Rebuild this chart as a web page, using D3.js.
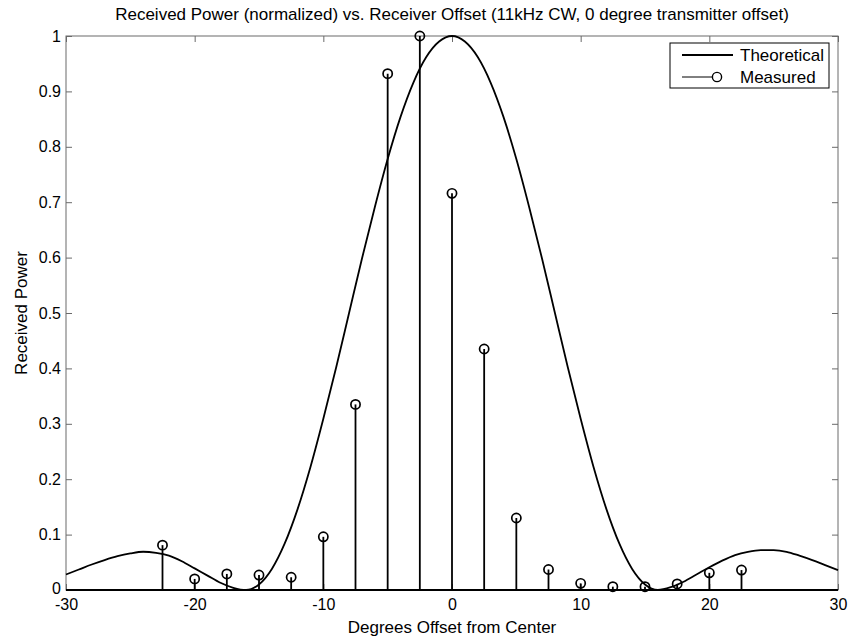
<!DOCTYPE html>
<html>
<head>
<meta charset="utf-8">
<script src="https://cdn.jsdelivr.net/npm/d3@7"></script>
<style>
  html, body { margin: 0; padding: 0; background: #fff; }
  svg { display: block; font-family: "Liberation Sans", Arial, Helvetica, sans-serif; }
</style>
</head>
<body>
<svg id="chart" width="851" height="637"></svg>
<script>
// ---- data ----
const titleText = "Received Power (normalized) vs. Receiver Offset (11kHz CW, 0 degree transmitter offset)";
const xLabelText = "Degrees Offset from Center";
const yLabelText = "Received Power";
const legendLabels = ["Theoretical", "Measured"];

const xTicks = [-30, -20, -10, 0, 10, 20, 30];
const xTickLabels = ["-30", "-20", "-10", "0", "10", "20", "30"];
const yTicks = [0, 0.1, 0.2, 0.3, 0.4, 0.5, 0.6, 0.7, 0.8, 0.9, 1];
const yTickLabels = ["0", "0.1", "0.2", "0.3", "0.4", "0.5", "0.6", "0.7", "0.8", "0.9", "1"];

// Theoretical curve, every degree
const theoryDeg = [-30,-29,-28,-27,-26,-25,-24,-23,-22,-21,-20,-19,-18,-17,-16,-15,-14,-13,-12,-11,-10,-9,-8,-7,-6,-5,-4,-3,-2,-1,
                   0,1,2,3,4,5,6,7,8,9,10,11,12,13,14,15,16,17,18,19,20,21,22,23,24,25,26,27,28,29,30];
const theoryPower = [0.028,0.037,0.046,0.054,0.061,0.066,0.069,0.067,0.062,0.052,0.039,0.026,0.013,0.004,0.000,0.010,0.038,0.084,0.146,0.222,0.309,0.402,0.500,0.598,0.691,0.778,0.854,0.916,0.962,0.990,
                     1.000,0.990,0.962,0.916,0.854,0.778,0.691,0.598,0.500,0.402,0.309,0.222,0.146,0.084,0.038,0.010,0.000,0.005,0.015,0.028,0.041,0.053,0.063,0.069,0.072,0.072,0.069,0.062,0.054,0.045,0.036];

// Measured stems
const measuredDeg = [-22.5,-20,-17.5,-15,-12.5,-10,-7.5,-5,-2.5,0,2.5,5,7.5,10,12.5,15,17.5,20,22.5];
const measuredPower = [0.081,0.020,0.029,0.027,0.023,0.096,0.335,0.932,1.000,0.716,0.435,0.130,0.037,0.012,0.006,0.006,0.011,0.031,0.036];

// ---- layout ----
const svg = d3.select("#chart");
const L = 66, R = 838, T = 36, B = 590;
const x = d3.scaleLinear().domain([-30, 30]).range([L, R]);
const y = d3.scaleLinear().domain([0, 1]).range([B, T]);
const ink = "#000";
const FONT = '"Liberation Sans", Arial, sans-serif';

// plot box
svg.append("rect").attr("x", L).attr("y", T).attr("width", R - L).attr("height", B - T)
  .attr("fill", "none").attr("stroke", "#6a6a6a").attr("stroke-width", 1);

// axes with inward ticks
const fmtX = d => xTickLabels[xTicks.indexOf(d)];
const fmtY = d => yTickLabels[yTicks.indexOf(d)];
const gx = svg.append("g").attr("transform", `translate(0,${B})`)
  .call(d3.axisBottom(x).tickValues(xTicks).tickSize(-6).tickPadding(9).tickFormat(fmtX));
const gxt = svg.append("g").attr("transform", `translate(0,${T})`)
  .call(d3.axisTop(x).tickValues(xTicks).tickSize(-6).tickFormat(""));
const gy = svg.append("g").attr("transform", `translate(${L},0)`)
  .call(d3.axisLeft(y).tickValues(yTicks).tickSize(-6).tickPadding(5).tickFormat(fmtY));
const gyr = svg.append("g").attr("transform", `translate(${R},0)`)
  .call(d3.axisRight(y).tickValues(yTicks).tickSize(-6).tickFormat(""));
[gx, gxt, gy, gyr].forEach(g => {
  g.select(".domain").remove();
  g.selectAll(".tick line").attr("stroke", "#6a6a6a");
  g.selectAll("text").attr("fill", ink).style("font-size", "16px").style("font-family", FONT);
});
// lift the "0" y label slightly so it clears the "-30" x label
gy.selectAll(".tick").filter(d => d === 0).select("text").attr("dy", "0.2em");

// baseline
svg.append("line").attr("x1", L).attr("x2", R).attr("y1", y(0)).attr("y2", y(0))
  .attr("stroke", ink).attr("stroke-width", 1.8);

// theoretical curve
const theory = theoryDeg.map((d, i) => [d, theoryPower[i]]);
svg.append("path").datum(theory)
  .attr("d", d3.line().x(d => x(d[0])).y(d => y(d[1])).curve(d3.curveMonotoneX))
  .attr("fill", "none").attr("stroke", ink).attr("stroke-width", 1.8);

// measured stems
const meas = measuredDeg.map((d, i) => [d, measuredPower[i]]);
const st = svg.append("g");
st.selectAll("line").data(meas).join("line")
  .attr("x1", d => x(d[0])).attr("x2", d => x(d[0]))
  .attr("y1", y(0)).attr("y2", d => y(d[1]))
  .attr("stroke", ink).attr("stroke-width", 1.8);
st.selectAll("circle").data(meas).join("circle")
  .attr("cx", d => x(d[0])).attr("cy", d => y(d[1])).attr("r", 4.6)
  .attr("fill", "none").attr("stroke", ink).attr("stroke-width", 1.7);

// title and labels
svg.append("text").attr("x", (L + R) / 2).attr("y", 20).attr("text-anchor", "middle")
  .attr("fill", ink).style("font-size", "17px").text(titleText);
svg.append("text").attr("x", (L + R) / 2).attr("y", 633).attr("text-anchor", "middle")
  .attr("fill", ink).style("font-size", "17px").text(xLabelText);
svg.append("text").attr("transform", `translate(27,${(T + B) / 2}) rotate(-90)`).attr("text-anchor", "middle")
  .attr("fill", ink).style("font-size", "17px").text(yLabelText);

// legend
const lg = svg.append("g");
lg.append("rect").attr("x", 670).attr("y", 43).attr("width", 159).attr("height", 45)
  .attr("fill", "#fff").attr("stroke", ink).attr("stroke-width", 1);
lg.append("line").attr("x1", 682).attr("x2", 733).attr("y1", 55).attr("y2", 55)
  .attr("stroke", ink).attr("stroke-width", 2);
lg.append("line").attr("x1", 682).attr("x2", 712).attr("y1", 77).attr("y2", 77)
  .attr("stroke", ink).attr("stroke-width", 1);
lg.append("circle").attr("cx", 717).attr("cy", 77).attr("r", 4.6)
  .attr("fill", "none").attr("stroke", ink).attr("stroke-width", 1.4);
lg.selectAll("text.lt").data(legendLabels).join("text").attr("class", "lt")
  .attr("x", 740).attr("y", (d, i) => 61 + i * 22)
  .attr("fill", ink).style("font-size", "17px").text(d => d);
</script>
</body>
</html>
